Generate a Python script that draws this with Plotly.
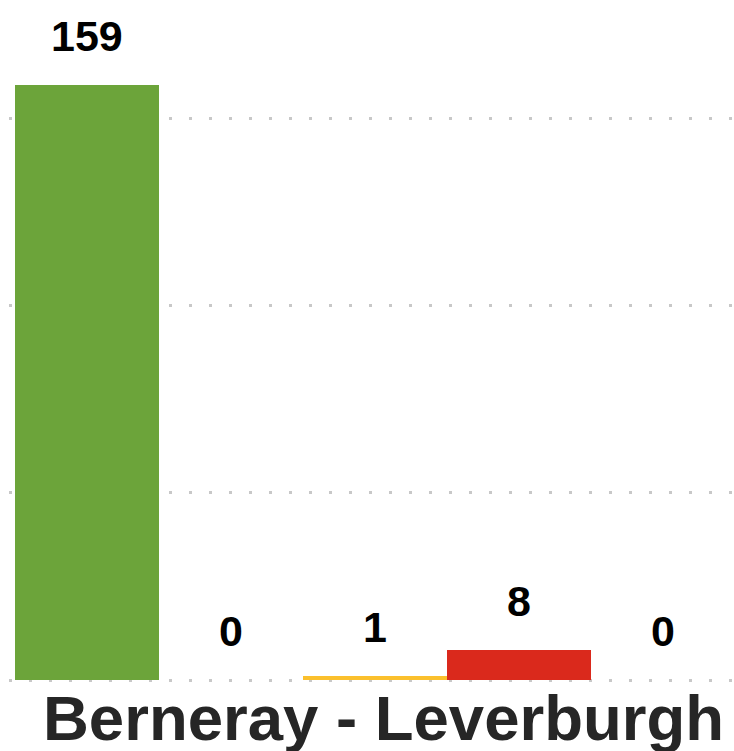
import plotly.graph_objects as go

categories = ["On time", "Minor delay", "Moderate delay", "Major delay", "Cancelled"]
values = [159, 0, 1, 8, 0]
colors = ["#6ca43a", "#f08a24", "#fbc02d", "#da291c", "#8b1a10"]
title_text = "Berneray - Leverburgh"

PX_PER_UNIT = 3.745

fig = go.Figure()
fig.add_trace(go.Bar(
    x=list(range(len(categories))),
    y=values,
    marker=dict(color=colors, line=dict(width=0)),
    hovertext=categories,
    showlegend=False,
))

for i, v in enumerate(values):
    fig.add_annotation(
        x=i, y=v, xref="x", yref="y",
        text=f"<b>{v}</b>", showarrow=False,
        yanchor="bottom", yshift=23,
        font=dict(family="Liberation Sans, Arial", size=43, color="#000000"),
    )

fig.add_annotation(
    x=0.5166, y=0, xref="paper", yref="paper",
    text=f"<b>{title_text}</b>", showarrow=False,
    xanchor="center", yanchor="top", yshift=1,
    font=dict(family="Liberation Sans, Arial", size=63.5, color="#262626"),
)

fig.update_layout(
    width=734, height=751,
    margin=dict(l=9, r=0, t=0, b=69),
    paper_bgcolor="white", plot_bgcolor="white",
    bargap=0,
)
fig.update_xaxes(
    range=[-0.5 - 6 / 144, -0.5 - 6 / 144 + 725 / 144],
    showticklabels=False, showgrid=False, zeroline=False, showline=False,
)
fig.update_yaxes(
    range=[-2 / PX_PER_UNIT, 680 / PX_PER_UNIT],
    tickvals=[0, 50, 100, 150],
    showticklabels=False, showgrid=True, gridcolor="#c8c8c8",
    gridwidth=3, griddash="3px,17px", zeroline=False, showline=False,
)

fig.write_html(
    "out.html",
    config={"displayModeBar": False},
    post_script="document.body.style.margin='0';document.body.style.overflow='hidden';",
)
